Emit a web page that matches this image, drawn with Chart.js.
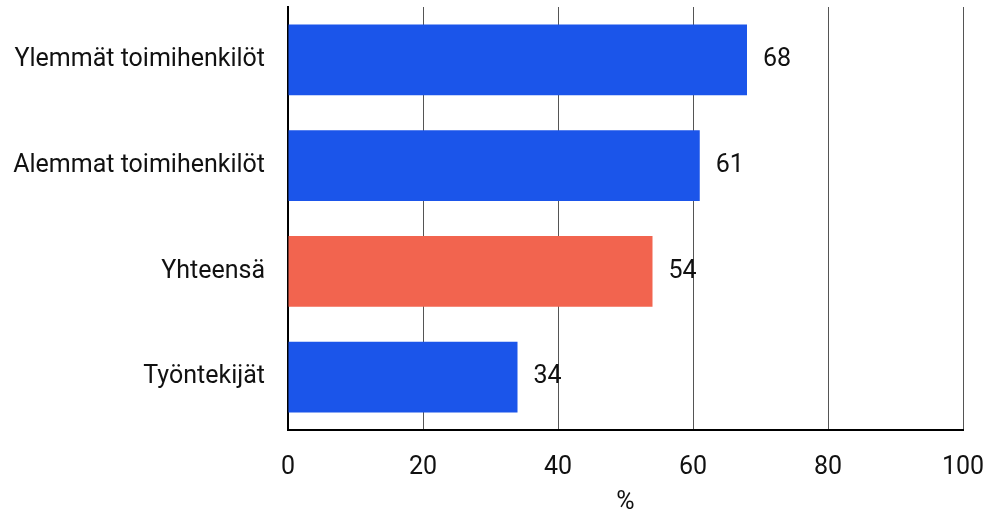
<!DOCTYPE html>
<html>
<head>
<meta charset="utf-8">
<script src="https://cdn.jsdelivr.net/npm/chart.js@4"></script>
<style>
	html, body { margin: 0; padding: 0; background: #fff; }
	#wrap { width: 989px; height: 516px; position: relative; }
</style>
</head>
<body>
<div id="wrap"><canvas id="chart1"></canvas></div>
<script>
// luokat ja arvot
const categories = ['Ylemmät toimihenkilöt', 'Alemmat toimihenkilöt', 'Yhteensä', 'Työntekijät'];
const values = [68, 61, 54, 34];
const barColors = ['#1b55ea', '#1b55ea', '#f2644f', '#1b55ea'];
const axisTitle = '%';

const FONT = 'Roboto, "DejaVu Sans", sans-serif';
const FONT_SIZE = 25;

// arvot palkkien perään
const valueLabels = {
	id: 'valueLabels',
	afterDatasetsDraw(chart) {
		const ctx = chart.ctx;
		const meta = chart.getDatasetMeta(0);
		ctx.save();
		ctx.font = FONT_SIZE + 'px ' + FONT;
		ctx.fillStyle = '#111';
		ctx.textAlign = 'left';
		ctx.textBaseline = 'middle';
		meta.data.forEach(function(bar, i) {
			ctx.fillText(String(values[i]), bar.x + 16, bar.y);
		});
		ctx.restore();
	}
};

new Chart(document.getElementById('chart1'), {
	type: 'bar',
	data: {
		labels: categories,
		datasets: [{
			data: values,
			backgroundColor: barColors,
			categoryPercentage: 0.67,
			barPercentage: 1.0
		}]
	},
	options: {
		indexAxis: 'y',
		responsive: true,
		maintainAspectRatio: false,
		animation: false,
		layout: { padding: { top: 7, right: 26, left: 6, bottom: 0 } },
		plugins: {
			legend: { display: false },
			tooltip: { enabled: false }
		},
		scales: {
			x: {
				min: 0,
				max: 100,
				ticks: { stepSize: 20, maxRotation: 0, color: '#111', font: { family: FONT, size: FONT_SIZE }, padding: 23 },
				grid: { color: '#555', lineWidth: 1, drawTicks: false },
				border: { color: '#000', width: 2 },
				title: { display: true, text: axisTitle, color: '#111', font: { family: FONT, size: FONT_SIZE }, padding: { top: 4, bottom: -2 } },
				afterFit(scale) {
					scale.height = 86;
					scale.paddingLeft = 0;
					scale.paddingRight = 0;
				}
			},
			y: {
				ticks: { color: '#111', font: { family: FONT, size: FONT_SIZE }, padding: 23 },
				grid: { display: false, drawTicks: false },
				border: { color: '#000', width: 2 },
				afterFit(scale) {
					scale.width = 282;
					scale.paddingTop = 0;
					scale.paddingBottom = 0;
				}
			}
		}
	},
	plugins: [valueLabels]
});
</script>
</body>
</html>
